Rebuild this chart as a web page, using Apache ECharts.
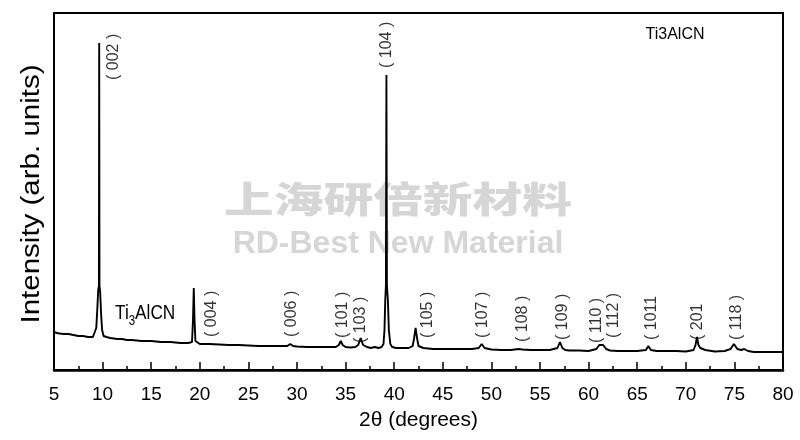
<!DOCTYPE html>
<html><head><meta charset="utf-8">
<script src="https://cdn.jsdelivr.net/npm/echarts@6/dist/echarts.min.js"></script>
<style>html,body{margin:0;padding:0;background:#fff}#c{width:800px;height:440px}</style>
</head><body><div id="c"></div>
<script>
const twoTheta = [5.0,5.3,5.6,6.0,6.5,7.0,7.5,8.0,8.5,9.0,9.2,9.35,9.45,9.55,9.62,9.65,9.68,9.75,9.85,9.95,10.1,10.4,10.8,11.5,12.0,12.5,13.0,14.0,15.0,16.0,17.0,18.0,18.8,19.2,19.3,19.38,19.46,19.55,20.0,21.0,22.0,23.0,24.0,25.0,26.0,27.0,28.0,29.0,29.3,29.6,30.0,31.0,32.0,33.0,34.0,34.3,34.5,34.7,35.0,35.5,36.0,36.3,36.55,36.8,37.0,37.2,37.4,37.6,38.0,38.4,38.7,38.9,39.0,39.08,39.15,39.2,39.25,39.35,39.45,39.6,39.8,40.2,40.6,41.0,41.5,41.9,42.05,42.2,42.35,42.5,43.0,43.5,44.0,45.0,46.0,46.8,47.0,47.3,48.0,48.7,49.0,49.3,50.0,51.0,52.0,52.8,53.0,53.2,54.0,55.0,56.0,56.8,57.05,57.3,57.6,58.0,59.0,60.0,60.8,61.1,61.3,61.5,61.8,62.2,63.0,64.0,65.0,65.9,66.15,66.4,67.0,68.0,69.0,70.0,70.8,71.0,71.15,71.3,71.5,71.7,72.0,73.0,74.0,74.6,74.95,75.3,75.7,76.0,76.4,77.0,78.0,79.0,79.8,80.0];
// intensity (arb. units)
const intensity = [38,37,36.5,36,36,35,34,34,33,33,35,42,60,80,84,327,84,78,55,40,34,33,32,31,31,30,30,29,29,28,28,27,27,28,50,82,50,29,26,26,25.5,25,25,24.5,24,24,24,24,26,24,23.5,23,23,23,23,25,29,25,23,22.5,23,25,32,25,27,23,25,22,23,22,23,26,40,70,85,295,85,70,40,26,23,22,22,22,22,24,32,42,32,24,22,21.5,21,21,21,21,23,21,21,22,26,22,20.5,20,20,21,22.5,20.5,20,20,20,22,28,22,20,19.5,19.5,19,21,25,24,25,21,19.5,19,19,19,20,24,20,19,19,19,18.5,20,25,33,25,22,24,20,18.5,19,21,26,21,20,21,19,18,18,18,18,18];
// peak (hkl) annotations
const peakLabels = ['(002)','(104)','(004)','(006)','(101)','(103)','(105)','(107)','(108)','(109)','(110)','(112)','(1011','(201','(118)'];
const peakLabelX = [11.17,39.26,21.25,29.49,34.73,36.58,43.48,49.14,53.25,57.37,60.86,62.6,66.52,71.25,75.27];
const peakLabelY = [290,302,33,33,32,27,32,32,28,30,27,32,30,30,30];
const xTicks = [5,10,15,20,25,30,35,40,45,50,55,60,65,70,75,80];
const xTitle = '2θ (degrees)';
const yTitle = 'Intensity (arb. units)';
const sampleName = 'Ti3AlCN';

const SANS = '"Liberation Sans",Arial,sans-serif';

const chart = echarts.init(document.getElementById('c'), null, {renderer:'canvas'});
chart.setOption({
  animation:false,
  backgroundColor:'#fff',
  grid:{left:54,right:17,top:13,bottom:70,show:true,borderColor:'#000',borderWidth:2},
  xAxis:{type:'value',min:xTicks[0],max:xTicks[xTicks.length-1],interval:5,
    axisLine:{show:true,lineStyle:{color:'#000',width:2.5}},
    axisTick:{show:true,inside:true,length:8,lineStyle:{color:'#000',width:1.5}},
    minorTick:{show:true,splitNumber:2,length:4,lineStyle:{color:'#000',width:1.5}},
    splitLine:{show:false},
    axisLabel:{color:'#000',fontFamily:SANS,fontSize:19,margin:15},
    name:xTitle,nameLocation:'middle',nameGap:40,
    nameTextStyle:{color:'#000',fontFamily:SANS,fontSize:21}
  },
  yAxis:{type:'value',min:0,max:357,
    axisLine:{show:true,lineStyle:{color:'#000',width:2}},
    axisTick:{show:false},axisLabel:{show:false},splitLine:{show:false}},
  graphic:[
    {type:'text',x:398,y:199,scaleX:1.38,z:0,silent:true,
     style:{text:'上海研倍新材料',fill:'#d6d6d6',font:'900 36px "Noto Sans CJK SC",sans-serif',align:'center',verticalAlign:'middle'}},
    {type:'text',x:398,y:244,z:0,silent:true,
     style:{text:'RD-Best New Material',fill:'#d6d6d6',font:'bold 32px '+SANS,align:'center',verticalAlign:'middle'}},
    {type:'text',x:32,y:194,rotation:Math.PI/2,scaleX:1.18,silent:true,
     style:{text:yTitle,fill:'#000',font:'25px '+SANS,align:'center',verticalAlign:'middle'}},
    {type:'text',x:675,y:35,silent:true,
     style:{text:sampleName,fill:'#000',font:'16px '+SANS,align:'center',verticalAlign:'middle'}},
    {type:'text',x:115,y:313,scaleX:0.82,silent:true,
     style:{text:'Ti{s|3}AlCN',fill:'#000',font:'21px '+SANS,verticalAlign:'middle',
       rich:{s:{fontSize:14,fontFamily:SANS,verticalAlign:'bottom',padding:[16,0,0,0]}}}}
  ],
  series:[
    {type:'line',data:twoTheta.map((x,i)=>[x,intensity[i]]),showSymbol:false,symbol:'none',
     lineStyle:{color:'#000',width:1.9},z:5,silent:true},
    {type:'scatter',data:peakLabels.map((n,i)=>({name:n,value:[peakLabelX[i],peakLabelY[i]]})),
     symbolSize:0,silent:true,z:6,
     label:{show:true,position:'inside',rotate:90,align:'left',verticalAlign:'middle',
       formatter:p=>p.name.replace('(','( ').replace(')',' )'),
       color:'#000',fontFamily:SANS,fontSize:16}}
  ]
});
</script></body></html>
